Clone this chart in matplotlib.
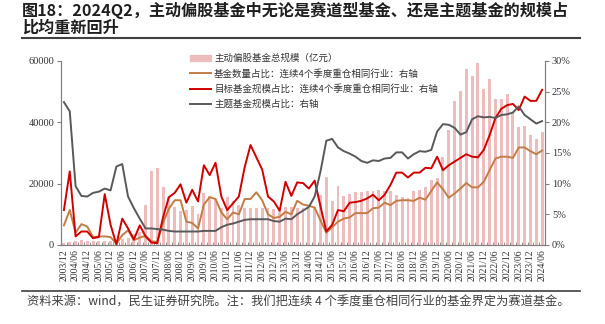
import matplotlib
matplotlib.use('Agg')
import matplotlib.pyplot as plt
import numpy as np
from matplotlib.lines import Line2D
from matplotlib.patches import Patch

plt.rcParams['font.family'] = ['Noto Sans CJK SC', 'DejaVu Sans']

# 季度：2003/12 ~ 2024/06
quarters = []
yr, mon = 2003, 12
while (yr, mon) <= (2024, 6):
    quarters.append(f'{yr}/{mon:02d}')
    mon += 3
    if mon > 12:
        mon -= 12
        yr += 1

# 主动偏股基金总规模（亿元）
total_scale = [800, 1000, 1300, 1500, 1400, 1300, 1300, 1400, 1400, 1600,
               2000, 2400, 3500, 4300, 13000, 24000, 25000, 19000, 15500, 12500,
               11200, 11400, 12700, 10100, 17100, 16000, 14900, 12000, 15500, 14500,
               13100, 12100, 12100, 12100, 12100, 12100, 11800, 12100, 12500, 12500,
               12100, 12000, 12000, 12300, 16300, 22300, 14500, 19200, 16000, 16600,
               17200, 17200, 17600, 17600, 17900, 17600, 17500, 16300, 15500, 15300,
               17600, 17900, 19000, 21200, 22000, 28800, 37500, 47000, 50200, 57400,
               55200, 59200, 50900, 54100, 47600, 47600, 49100, 42900, 38600, 38800,
               35900, 34600, 37000]

# 基金数量占比（%）
cnt_share = [3.2, 5.7, 2.0, 3.4, 3.0, 1.3, 1.4, 1.4, 1.3, 0.2,
             1.6, 2.4, 0.8, 1.2, 1.5, 0.6, 0.5, 3.6, 5.9, 7.3,
             7.3, 3.8, 3.6, 2.7, 6.6, 7.8, 7.5, 5.3, 4.2, 5.3,
             5.0, 7.5, 7.5, 8.6, 7.3, 5.0, 4.4, 4.6, 5.4, 5.0,
             7.2, 6.6, 6.4, 6.1, 4.0, 2.0, 2.9, 3.8, 4.3, 4.5,
             5.2, 5.2, 5.2, 6.0, 6.1, 6.9, 6.5, 7.2, 7.3, 7.3,
             7.2, 7.7, 7.4, 8.8, 10.2, 9.1, 7.7, 8.4, 9.2, 10.1,
             9.4, 9.4, 10.3, 12.2, 14.1, 14.4, 14.4, 14.2, 15.9, 15.9,
             15.3, 14.8, 15.4]

# 目标基金规模占比（%）
target_share = [5.7, 12.0, 1.4, 2.2, 2.2, 1.1, 1.3, 8.3, 3.3, 0.1,
                4.3, 2.7, 0.9, 3.2, 1.4, 0.4, 0.3, 4.5, 7.8, 8.5,
                9.9, 6.9, 9.0, 7.1, 13.0, 11.4, 13.4, 7.9, 5.7, 6.8,
                7.9, 12.7, 16.3, 14.3, 12.3, 7.9, 7.1, 5.6, 10.3, 8.0,
                10.2, 10.1, 9.2, 10.5, 6.3, 2.2, 3.3, 5.7, 5.5, 6.9,
                7.0, 7.2, 7.6, 8.2, 7.3, 8.2, 9.8, 11.8, 11.8, 11.0,
                11.8, 11.8, 12.6, 12.5, 14.4, 12.2, 13.0, 13.6, 14.2, 14.8,
                14.4, 14.3, 15.5, 17.9, 20.7, 22.2, 22.8, 23.0, 22.0, 24.2,
                23.5, 23.5, 25.3]

# 主题基金规模占比（%）
theme_share = [23.3, 21.8, 9.6, 8.0, 7.9, 8.5, 8.7, 9.2, 8.9, 12.8,
               13.2, 7.9, 6.0, 4.3, 2.7, 2.7, 2.6, 2.5, 2.3, 2.2,
               2.2, 2.2, 2.2, 2.2, 2.3, 2.3, 2.3, 2.9, 3.3, 3.5,
               3.8, 4.1, 4.2, 4.2, 4.2, 4.2, 3.9, 3.8, 4.3, 4.2,
               5.0, 5.6, 6.2, 7.9, 12.0, 17.0, 17.3, 15.9, 15.3, 14.9,
               14.4, 13.7, 13.4, 13.8, 13.7, 14.1, 14.2, 15.1, 15.1, 14.1,
               14.8, 15.3, 15.2, 15.5, 18.5, 19.7, 19.6, 19.1, 18.0, 18.4,
               20.5, 21.0, 20.8, 20.9, 20.7, 21.2, 21.3, 21.6, 22.6, 21.2,
               20.5, 19.8, 20.2]

labels = ['主动偏股基金总规模（亿元）',
          '基金数量占比：连续4个季度重仓相同行业：右轴',
          '目标基金规模占比：连续4个季度重仓相同行业：右轴',
          '主题基金规模占比：右轴']
c_bar, c_cnt, c_tgt, c_theme = '#EDBDBD', '#C47C45', '#D10000', '#595959'
serif = 'Liberation Serif'
axis_c = '#808080'

fig = plt.figure(figsize=(6.05, 3.24), dpi=100)
W, H = 605, 324
ax = fig.add_axes([61 / W, 79 / H, 484 / W, 184 / H])
x = np.arange(len(quarters))
ax.bar(x, total_scale, width=0.5, color=c_bar)
ax.set_xlim(-0.5, len(quarters) - 0.5)
ax.set_ylim(0, 60000)
ax.set_yticks([0, 20000, 40000, 60000])

ax2 = ax.twinx()
ax2.plot(x, cnt_share, color=c_cnt, lw=1.4)
ax2.plot(x, target_share, color=c_tgt, lw=1.4)
ax2.plot(x, theme_share, color=c_theme, lw=1.4)
ax2.set_ylim(0, 30)
ax2.set_yticks(range(0, 31, 5))
ax2.set_yticklabels([f'{v}%' for v in range(0, 31, 5)])

ax.set_xticks(x[::2])
ax.set_xticklabels(quarters[::2], rotation=90)
ax.set_xticks(np.arange(-0.5, len(quarters), 1), minor=True)
ax.tick_params(axis='x', which='major', length=0, pad=3)
ax.tick_params(axis='x', which='minor', length=2.5, direction='in', color=axis_c)
ax.tick_params(axis='y', length=3, color=axis_c, pad=2)
ax2.tick_params(axis='y', length=3, color=axis_c, pad=2)

for a in (ax, ax2):
    a.spines['top'].set_visible(False)
    for s in ('left', 'right', 'bottom'):
        a.spines[s].set_color(axis_c)
for lab in ax.get_xticklabels():
    lab.set_fontfamily(serif)
    lab.set_fontsize(7)
    lab.set_color('#333333')
for lab in ax.get_yticklabels() + ax2.get_yticklabels():
    lab.set_fontfamily(serif)
    lab.set_fontsize(7.5)
    lab.set_color('#333333')

handles = [Patch(color=c_bar),
           Line2D([], [], color=c_cnt, lw=1.4),
           Line2D([], [], color=c_tgt, lw=1.4),
           Line2D([], [], color=c_theme, lw=1.4)]
ax2.legend(handles, labels, loc='upper left', bbox_to_anchor=(0.25, 1.085),
           frameon=False, fontsize=6.8, handlelength=2.2, handleheight=0.7,
           handletextpad=0.3, labelspacing=0.6, labelcolor='#333333')

fig.text(22 / W, 1 - 2 / H, '图18：2024Q2，主动偏股基金中无论是赛道型基金、还是主题基金的规模占',
         fontsize=11.6, fontweight='bold', va='top', color='#1f1f1f')
fig.text(22 / W, 1 - 20 / H, '比均重新回升',
         fontsize=11.6, fontweight='bold', va='top', color='#1f1f1f')
fig.add_artist(Line2D([22 / W, 580 / W], [1 - 38 / H] * 2, color='#404040', lw=1.5))
fig.add_artist(Line2D([22 / W, 580 / W], [1 - 291 / H] * 2, color='#404040', lw=1.2))
fig.text(27 / W, 1 - 302 / H,
         '资料来源：wind，民生证券研究院。注：我们把连续 4 个季度重仓相同行业的基金界定为赛道基金。',
         fontsize=8.8, va='center', color='#404040')

fig.savefig('out.png', dpi=100)
